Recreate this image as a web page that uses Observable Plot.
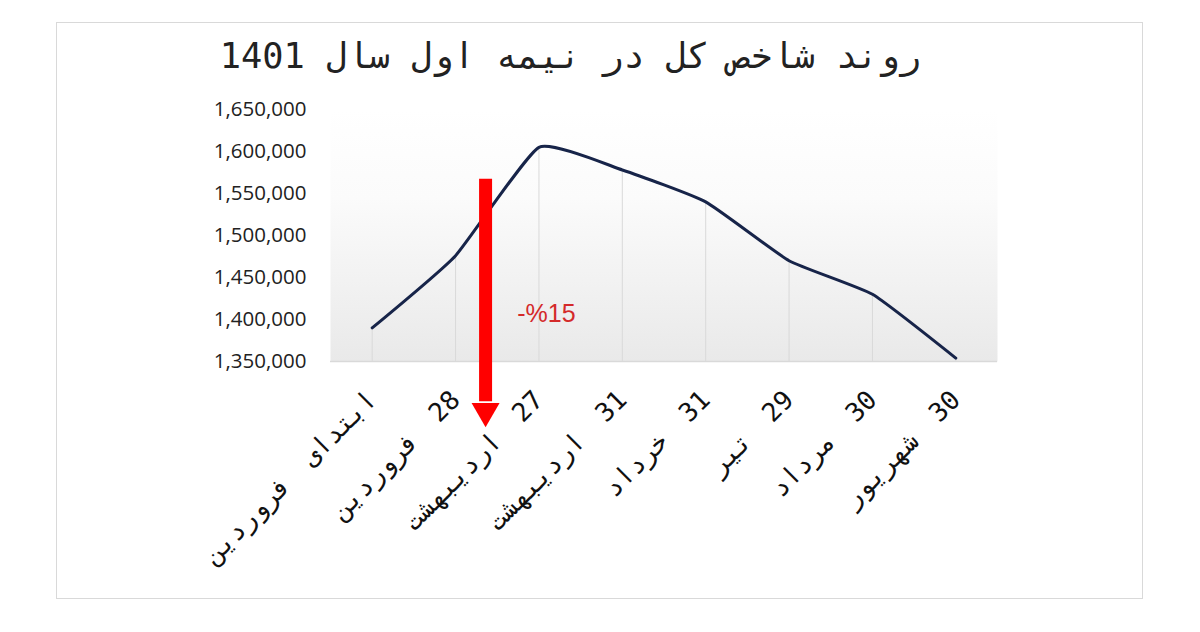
<!DOCTYPE html>
<html><head><meta charset="utf-8">
<script src="https://cdn.jsdelivr.net/npm/d3@7"></script>
<script src="https://cdn.jsdelivr.net/npm/@observablehq/plot@0.6"></script>
<style>
body{margin:0;background:#fff;}
#wrap{position:relative;width:1200px;height:632px;overflow:hidden;background:#fff;}
#frame{position:absolute;left:56px;top:22px;width:1085px;height:575px;border:1px solid #d9d9d9;box-sizing:content-box;}
#title{position:absolute;left:0;top:35px;width:921px;text-align:right;direction:rtl;font-family:"DejaVu Sans Mono",monospace;font-size:35.3px;color:#222;white-space:nowrap;}
#chart{position:absolute;left:0;top:0;}
</style>
</head><body>
<div id="wrap"><div id="frame"></div><div id="title">روند شاخص کل در نیمه اول سال 1401</div><div id="chart"></div></div>
<script>
const labels = ["ابتدای فروردین","28 فروردین","27 اردیبهشت","31 اردیبهشت","31 خرداد","29 تیر","30 مرداد","30 شهریور"];
const values = [1390000,1476000,1605000,1578000,1540000,1470000,1430000,1354000];
const yTicks = [1350000,1400000,1450000,1500000,1550000,1600000,1650000];
const arrowX = [1.36];
const arrowTop = [1567000];
const arrowHeadStart = [1302000];
const arrowHead = [1291000];
const noteText = ["-%15"];
const noteX = [1.74];
const noteY = [1407000];

const yMin = yTicks[0], yMax = yTicks[yTicks.length-1];
const data = labels.map((label,i)=>({i, label, value: values[i]}));
const arrow = arrowX.map((x,k)=>({x, top: arrowTop[k], headStart: arrowHeadStart[k], head: arrowHead[k]}));
const notes = noteText.map((t,k)=>({text:t, x: noteX[k], y: noteY[k]}));

const plot = Plot.plot({
  width:1200, height:632,
  marginLeft:330, marginRight:203, marginTop:109, marginBottom:271,
  style:{background:"transparent", overflow:"visible"},
  x:{type:"linear", domain:[-0.5, labels.length-0.5], label:null},
  y:{domain:[yMin, yMax], label:null},
  marks:[
    Plot.frame({fill:"url(#bgGrad)", stroke:null}),
    Plot.ruleX(data,{x:"i", y1:yMin, y2:"value", stroke:"#d9d9d9", strokeWidth:1}),
    Plot.ruleY([yMin],{stroke:"#d9d9d9", strokeWidth:1.5}),
    Plot.axisY({ticks:yTicks, tickFormat:d=>d3.format(",")(d), tickSize:0, tickPadding:24, fontSize:20.5, fontFamily:"Open Sans", label:null, fill:"#222"}),
    Plot.axisX({ticks:d3.range(labels.length), tickFormat:i=>labels[i], tickRotate:-45, tickSize:0, tickPadding:34, fontSize:26, fontFamily:"DejaVu Sans Mono", label:null, fill:"#111"}),
    Plot.line(data,{x:"i", y:"value", stroke:"#172449", strokeWidth:3, curve:"cardinal", tension:0.55}),
    Plot.ruleX(arrow,{x:"x", y1:"top", y2:"headStart", stroke:"#ff0000", strokeWidth:13}),
    Plot.dot(arrow,{x:"x", y:"head", symbol:"triangle", r:10.4, fill:"#ff0000", stroke:null, rotate:180}),
    Plot.text(notes,{x:"x", y:"y", text:"text", fill:"#d42a2a", fontSize:25, fontFamily:"Liberation Sans", textAnchor:"start"})
  ]
});
const svg = d3.select(plot);
const defs = svg.insert("defs", ":first-child");
const gr = defs.append("linearGradient").attr("id","bgGrad").attr("x1",0).attr("y1",0).attr("x2",0).attr("y2",1);
gr.append("stop").attr("offset","0%").attr("stop-color","#ffffff");
gr.append("stop").attr("offset","35%").attr("stop-color","#fbfbfb");
gr.append("stop").attr("offset","100%").attr("stop-color","#e9e9e9");
svg.selectAll('g[aria-label="x-axis tick label"] text').attr("direction","rtl").attr("text-anchor","start").style("word-spacing","12px");
document.getElementById("chart").appendChild(plot);
</script>
</body></html>
